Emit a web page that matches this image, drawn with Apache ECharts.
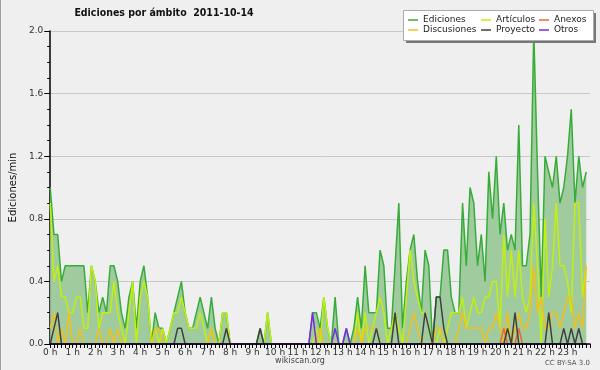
<!DOCTYPE html>
<html>
<head>
<meta charset="utf-8">
<script src="https://cdn.jsdelivr.net/npm/echarts@6/dist/echarts.min.js"></script>
<style>
html,body{margin:0;padding:0;background:#efefef;}
#c{width:600px;height:370px;}
</style>
</head>
<body>
<div id="c"></div>
<script>
// 144 ten-minute slots (0 h .. 23:50)
var hourLabels = ['0 h','1 h','2 h','3 h','4 h','5 h','6 h','7 h','8 h','9 h','10 h','11 h',
                  '12 h','13 h','14 h','15 h','16 h','17 h','18 h','19 h','20 h','21 h','22 h','23 h'];
var yTickLabels = ['0.0','0.4','0.8','1.2','1.6','2.0'];

var ediciones = [
 1.0,0.7,0.7,0.4,0.5,0.5,0.5,0.5,0.5,0.5,0.2,0.5,
 0.4,0.2,0.3,0.2,0.5,0.5,0.4,0.2,0.1,0.3,0.4,0.1,
 0.4,0.5,0.3,0.0,0.2,0.1,0.1,0.0,0.1,0.2,0.3,0.4,
 0.2,0.1,0.1,0.2,0.3,0.2,0.1,0.3,0.1,0.0,0.2,0.2,
 0,0,0,0,0,0,0,0,0.1,0,0.2,0,
 0,0,0,0,0,0,0,0,0,0,0.2,0.2,
 0.1,0.3,0.1,0,0.3,0,0,0.1,0,0.1,0.3,0.1,
 0.5,0.2,0.2,0.2,0.6,0.5,0.1,0.1,0.5,0.9,0.1,0.4,
 0.6,0.7,0.4,0.2,0.6,0.5,0,0.3,0.3,0.6,0.6,0.3,
 0.2,0.2,0.9,0.5,1.0,0.9,0.5,0.7,0.4,1.1,0.8,1.2,
 0.7,0.9,0.6,0.7,0.6,1.4,0.5,0.5,0.7,2.0,1.1,0.3,
 1.2,1.1,1.0,1.2,0.9,1.0,1.2,1.5,0.9,1.2,1.0,1.1
];
var articulos = [
 0.9,0.4,0.5,0.3,0.3,0.2,0.2,0.3,0.3,0.1,0.1,0.5,
 0.4,0.1,0.2,0.2,0.2,0.4,0.2,0.1,0,0.2,0.4,0,
 0.3,0.4,0.3,0,0.1,0,0.1,0,0.1,0.2,0.2,0.3,
 0.2,0.1,0.1,0.1,0.2,0.1,0,0.1,0,0,0.2,0.2,
 0,0,0,0,0,0,0,0,0,0,0.2,0,
 0,0,0,0,0,0,0,0,0,0,0,0.1,
 0,0.3,0.1,0,0,0,0,0,0,0,0.2,0,
 0.2,0,0.1,0.2,0.3,0.2,0,0.1,0.2,0.1,0,0.3,
 0.6,0.4,0.3,0.2,0.2,0.1,0,0,0.1,0,0.1,0.2,
 0.2,0.2,0.3,0.1,0.2,0.3,0.2,0.2,0.3,0.3,0.4,0.4,
 0.1,0.7,0.3,0.6,0.3,0.6,0.3,0.2,0.3,0.9,0.5,0,
 0.8,0.3,0.5,0.9,0.5,0.5,0.4,0.2,0.9,0.9,0.3,0.5
];
var discusiones = [
 0.1,0.2,0,0.1,0,0.2,0,0,0.1,0,0,0,
 0,0.1,0,0,0.1,0,0.1,0,0,0,0,0,
 0,0,0,0,0.1,0.1,0,0,0,0,0,0,
 0,0,0,0,0,0,0,0.1,0,0,0,0,
 0,0,0,0,0,0,0,0,0,0,0,0,
 0,0,0,0,0,0,0,0,0,0,0,0,
 0.1,0,0,0,0,0,0,0,0,0,0.1,0,
 0.1,0.1,0.1,0.1,0,0,0,0,0,0,0,0,
 0.1,0.2,0.1,0,0,0,0,0.1,0.1,0,0,0,
 0,0.1,0.2,0.1,0.1,0.1,0.1,0.1,0,0.1,0.1,0.2,
 0.1,0,0.2,0,0.1,0.2,0.1,0.1,0.2,0.5,0.2,0.3,
 0.1,0.1,0.2,0.2,0.1,0.2,0.3,0.3,0.1,0.2,0.1,0.5
];
var anexos = [
 0,0,0,0,0,0,0,0,0,0,0,0,
 0,0,0,0,0,0,0,0,0,0,0,0,
 0,0,0,0,0,0,0,0,0,0,0,0,
 0,0,0,0,0,0,0,0,0,0,0,0,
 0,0,0,0,0,0,0,0,0,0,0,0,
 0,0,0,0,0,0,0,0,0,0,0,0,
 0,0,0,0,0,0,0,0,0,0,0,0,
 0,0,0,0,0,0,0,0,0,0,0,0,
 0,0,0,0,0,0,0,0,0,0,0,0,
 0,0,0,0,0,0,0,0,0,0,0,0,
 0,0.1,0,0,0,0.1,0,0,0,0,0,0,
 0,0,0,0,0,0,0,0,0,0,0,0
];
var proyecto = [
 0,0.1,0.2,0,0,0,0,0,0,0,0,0,
 0,0,0,0,0,0,0,0,0,0,0,0,
 0,0,0,0,0,0,0,0,0,0,0.1,0.1,
 0,0,0,0,0,0,0,0,0,0,0,0.1,
 0,0,0,0,0,0,0,0,0.1,0,0,0,
 0,0,0,0,0,0,0,0,0,0,0,0,
 0,0,0,0,0,0,0,0,0,0,0,0,
 0,0,0,0.1,0,0,0,0,0.2,0,0,0,
 0,0,0,0,0.2,0.1,0,0.3,0.3,0.1,0,0,
 0,0,0,0,0,0,0,0,0,0,0,0,
 0,0,0.1,0,0.2,0,0,0,0,0,0,0,
 0,0.2,0,0,0,0.1,0,0.1,0,0.1,0,0
];
var otros = [
 0,0,0,0,0,0,0,0,0,0,0,0,
 0,0,0,0,0,0,0,0,0,0,0,0,
 0,0,0,0,0,0,0,0,0,0,0,0,
 0,0,0,0,0,0,0,0,0,0,0,0,
 0,0,0,0,0,0,0,0,0,0,0,0,
 0,0,0,0,0,0,0,0,0,0,0.2,0,
 0,0,0,0,0.1,0,0,0.1,0,0,0,0,
 0,0,0,0,0,0,0,0,0,0,0,0,
 0,0,0,0,0,0,0,0,0,0,0,0,
 0,0,0,0,0,0,0,0,0,0,0,0,
 0,0,0,0,0,0,0,0,0,0,0,0,
 0,0,0,0,0,0,0,0,0,0,0,0
];

function pts(arr){ return arr.map(function(v,i){ return [i, v]; }); }

var FONT = 'DejaVu Sans';
var chart = echarts.init(document.getElementById('c'), null, {renderer:'canvas'});

function lineSeries(name, data, color, extra){
  var s = {
    name: name, type: 'line', data: pts(data), symbol: 'none', smooth: false,
    lineStyle: {color: color, width: 1.5}, itemStyle: {color: color},
    emphasis: {disabled: true}, animation: false
  };
  if (extra) for (var k in extra) s[k] = extra[k];
  return s;
}

function legendBlock(left, names){
  return {
    orient: 'vertical', left: left, top: 15, padding: 0, itemGap: 0,
    itemWidth: 10, itemHeight: 1.5, icon: 'rect', z: 102,
    data: names, selectedMode: false,
    textStyle: {fontFamily: FONT, fontSize: 9, color: '#222', lineHeight: 10}
  };
}

chart.setOption({
  backgroundColor: '#efefef',
  animation: false,
  grid: {left: 46, right: 10, top: 31, bottom: 26, containLabel: false},
  legend: [
    legendBlock(408, ['Ediciones','Discusiones']),
    legendBlock(481, ['Artículos','Proyecto']),
    legendBlock(539, ['Anexos','Otros'])
  ],
  xAxis: {
    type: 'value', min: 0, max: 144, interval: 6, z: 10,
    axisLine: {show: true, onZero: false, lineStyle: {color: '#000', width: 1.5}},
    axisTick: {show: true, length: 4, lineStyle: {color: '#000', width: 1}},
    minorTick: {show: true, splitNumber: 6, length: 4, lineStyle: {color: '#000', width: 1}},
    splitLine: {show: false},
    axisLabel: {
      fontFamily: FONT, fontSize: 9, color: '#333', margin: 4,
      formatter: function(v){ var h = Math.round(v/6); return hourLabels[h] !== undefined ? hourLabels[h] : ''; }
    }
  },
  yAxis: {
    type: 'value', min: 0, max: 2, interval: 0.4,
    axisLine: {show: true, lineStyle: {color: '#000', width: 1.5}},
    axisTick: {show: true, length: 6, lineStyle: {color: '#000'}},
    minorTick: {show: true, splitNumber: 4, length: 3, lineStyle: {color: '#000'}},
    splitLine: {show: true, lineStyle: {color: '#c8c8c8', width: 1}},
    axisLabel: {
      fontFamily: FONT, fontSize: 9, color: '#333', margin: 7,
      formatter: function(v){ var k = Math.round(v/0.4); return yTickLabels[k]; }
    },
    name: 'Ediciones/min', nameLocation: 'middle', nameGap: 30, nameRotate: 90,
    nameTextStyle: {fontFamily: FONT, fontSize: 10, color: '#111'}
  },
  series: [
    lineSeries('Ediciones', ediciones, '#38ac38', {areaStyle: {color: '#9fcb9f', opacity: 1}}),
    lineSeries('Artículos', articulos, '#c2f00e'),
    lineSeries('Discusiones', discusiones, '#f2c01a'),
    lineSeries('Anexos', anexos, '#ee6630'),
    lineSeries('Proyecto', proyecto, '#404040'),
    lineSeries('Otros', otros, '#7a2ce4')
  ],
  graphic: [
    {type: 'line', shape: {x1: 0.5, y1: 0, x2: 0.5, y2: 370}, style: {stroke: '#a0a0a0', lineWidth: 1}, z: 100},
    {type: 'rect', shape: {x: 406, y: 13, width: 190, height: 30}, style: {fill: '#777'}, z: 100},
    {type: 'rect', shape: {x: 403.5, y: 10.5, width: 190, height: 30}, style: {fill: '#fff', stroke: '#aaa', lineWidth: 1}, z: 101},
    {type: 'text', x: 164, y: 8, z: 100,
     style: {text: 'Ediciones por ámbito  2011-10-14', fontFamily: '"DejaVu Sans Condensed", "DejaVu Sans"', fontWeight: 'bold', fontSize: 10.5, fill: '#111', textAlign: 'center', textVerticalAlign: 'top'}},
    {type: 'text', x: 300, y: 357, z: 100,
     style: {text: 'wikiscan.org', fontFamily: FONT, fontSize: 8, fill: '#444', textAlign: 'center', textVerticalAlign: 'top'}},
    {type: 'text', x: 590, y: 360, z: 100,
     style: {text: 'CC BY-SA 3.0', fontFamily: FONT, fontSize: 7, fill: '#555', textAlign: 'right', textVerticalAlign: 'top'}}
  ]
});
</script>
</body>
</html>
